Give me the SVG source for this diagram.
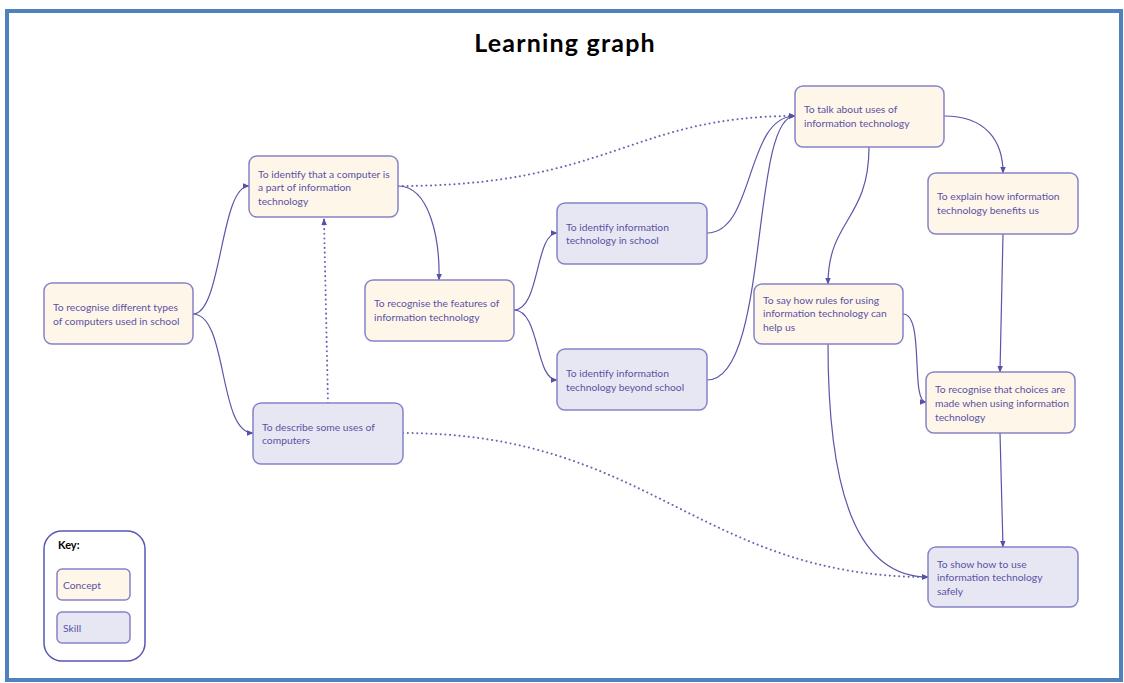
<svg xmlns="http://www.w3.org/2000/svg" width="1124" height="683" viewBox="0 0 1124 683">
<defs>
<marker id="ah" viewBox="0 0 10 10" refX="9" refY="5" markerWidth="7" markerHeight="7" markerUnits="userSpaceOnUse" orient="auto">
<path d="M0,1 L10,5 L0,9 z" fill="#5650a6"/>
</marker>
<style>
.frame{fill:#fff;stroke:#4f81bd;stroke-width:4}
.c{fill:#fff6ea;stroke:#8683c8;stroke-width:1.5}
.s{fill:#e7e7f3;stroke:#8683c8;stroke-width:1.5}
.t{font-family:Lato,"Liberation Sans",sans-serif;font-size:10.3px;fill:#5a52a4}
.e{fill:none;stroke:#5a56a8;stroke-width:1.2;marker-end:url(#ah)}
.d{stroke-dasharray:0.1 4.6;stroke-width:2;stroke-linecap:round;stroke:#6a66b4}
.title{font-family:"Comic Sans MS","Lato","DejaVu Sans",sans-serif;font-weight:bold;font-size:25px;letter-spacing:1.2px;fill:#000}
</style>
</defs>
<rect class="frame" x="7" y="11" width="1114" height="669"/>
<text class="title" x="565" y="52" text-anchor="middle">Learning graph</text>

<g id="connectors">
<path class="e" d="M193,314 C222,314 220,186 249,186"/>
<path class="e" d="M193,314 C228,314 218,433 253,433"/>
<path class="e d" d="M328,403 L324,219"/>
<path class="e d" d="M398,186 C610,186 630,116 795,116"/>
<path class="e" d="M398,186 C430,186 440,240 439,280"/>
<path class="e" d="M514,310 C540,310 535,233 557,233"/>
<path class="e" d="M514,310 C540,310 535,380 557,380"/>
<path class="e" d="M707,233 C755,233 745,116 795,116"/>
<path class="e" d="M707,380 C770,380 750,116 795,116"/>
<path class="e" d="M869,147 C869,220 828,220 828,284"/>
<path class="e" d="M944,116 C985,116 1003,140 1003,173"/>
<path class="e" d="M1003,234 L1000,372"/>
<path class="e" d="M903,314 C925,314 910,402 926,402"/>
<path class="e" d="M828,344 C828,500 860,577 928,577"/>
<path class="e" d="M1000,433 L1003,547"/>
<path class="e d" d="M403,433 C650,433 700,577 928,577"/>
</g>

<g id="n1"><rect class="c" x="44" y="283" width="149" height="61" rx="8"/>
<text class="t" x="53" y="311">To recognise different types</text>
<text class="t" x="53" y="325">of computers used in school</text></g>

<g id="n2"><rect class="c" x="249" y="156" width="149" height="61" rx="8"/>
<text class="t" x="258" y="178">To identify that a computer is</text>
<text class="t" x="258" y="191">a part of information</text>
<text class="t" x="258" y="205">technology</text></g>

<g id="n3"><rect class="s" x="253" y="403" width="150" height="61" rx="8"/>
<text class="t" x="262" y="431">To describe some uses of</text>
<text class="t" x="262" y="444">computers</text></g>

<g id="n4"><rect class="c" x="365" y="280" width="149" height="61" rx="8"/>
<text class="t" x="374" y="307">To recognise the features of</text>
<text class="t" x="374" y="321">information technology</text></g>

<g id="n5"><rect class="s" x="557" y="203" width="150" height="61" rx="8"/>
<text class="t" x="566" y="231">To identify information</text>
<text class="t" x="566" y="244">technology in school</text></g>

<g id="n6"><rect class="s" x="557" y="349" width="150" height="61" rx="8"/>
<text class="t" x="566" y="377">To identify information</text>
<text class="t" x="566" y="391">technology beyond school</text></g>

<g id="n7"><rect class="c" x="795" y="86" width="149" height="61" rx="8"/>
<text class="t" x="804" y="113">To talk about uses of</text>
<text class="t" x="804" y="127">information technology</text></g>

<g id="n8"><rect class="c" x="928" y="173" width="150" height="61" rx="8"/>
<text class="t" x="937" y="200">To explain how information</text>
<text class="t" x="937" y="214">technology benefits us</text></g>

<g id="n9"><rect class="c" x="754" y="284" width="149" height="60" rx="8"/>
<text class="t" x="763" y="304">To say how rules for using</text>
<text class="t" x="763" y="317">information technology can</text>
<text class="t" x="763" y="331">help us</text></g>

<g id="n10"><rect class="c" x="926" y="372" width="149" height="61" rx="8"/>
<text class="t" x="935" y="393">To recognise that choices are</text>
<text class="t" x="935" y="407">made when using information</text>
<text class="t" x="935" y="421">technology</text></g>

<g id="n11"><rect class="s" x="928" y="547" width="150" height="60" rx="8"/>
<text class="t" x="937" y="568">To show how to use</text>
<text class="t" x="937" y="581">information technology</text>
<text class="t" x="937" y="595">safely</text></g>

<g id="key"><rect x="44" y="531" width="101" height="130" rx="18" fill="#fff" stroke="#5a56b8" stroke-width="1.5"/>
<text x="58" y="549" font-family="Lato,'Liberation Sans',sans-serif" font-size="11" font-weight="bold" fill="#000">Key:</text>
<rect class="c" x="57" y="569" width="73" height="31" rx="5"/>
<text class="t" x="63" y="589">Concept</text>
<rect class="s" x="57" y="612" width="73" height="31" rx="5"/>
<text class="t" x="63" y="632">Skill</text></g>
</svg>
